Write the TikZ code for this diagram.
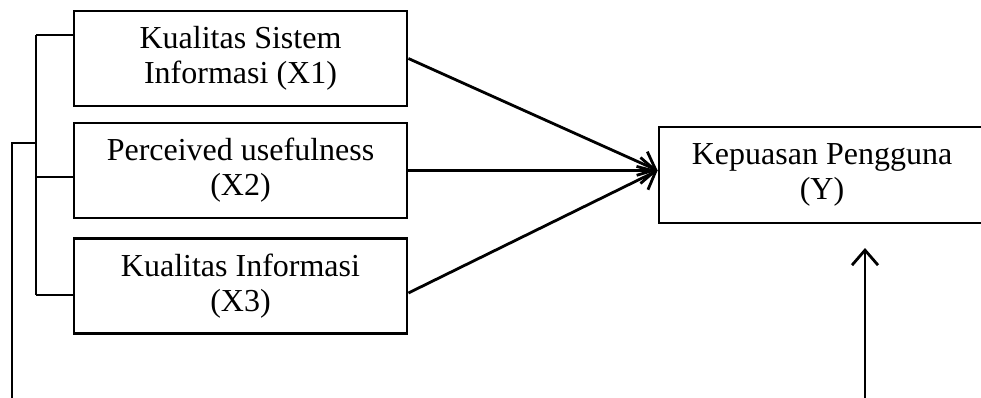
\documentclass[tikz,border=0pt]{standalone}
\usepackage{fontspec}
\setmainfont{Liberation Serif}
\usetikzlibrary{arrows.meta,calc}
\begin{document}
\begin{tikzpicture}[x=1pt,y=-1pt,
  box/.style={draw, line width=2.8pt, minimum width=333pt, minimum height=95pt,
    align=center, inner sep=0pt, font=\fontsize{32}{35}\selectfont},
  conn/.style={line width=2.8pt},
  arr/.style={line width=2.8pt, -{Straight Barb[length=15pt,width=26pt,line width=2.8pt]}}]
\clip (0,0) rectangle (981,398);
\fill[white] (0,0) rectangle (981,398);
\node[box] (X1) at (240.5,58.5) {Kualitas Sistem\\Informasi (X1)};
\node[box] (X2) at (240.5,170.5) {Perceived usefulness\\(X2)};
\node[box] (X3) at (240.5,286) {Kualitas Informasi\\(X3)};
\node[box, minimum width=326pt, minimum height=96pt] (Y) at (822,175) {Kepuasan Pengguna\\(Y)};
% convergence point
\coordinate (tip) at (X2.east -| Y.west);
\draw[arr] (X1.east) -- (tip);
\draw[arr] (X2.east) -- (tip);
\draw[arr] ($(X3.east)+(0,7)$) -- (tip);
% bracket
\coordinate (b1) at (36,35);
\coordinate (b2) at (36,177);
\coordinate (b3) at (36,295);
\coordinate (bo) at (36,143);
\draw[conn] (b1) -- (b3);
\draw[conn] (b1) -- (b1 -| X1.west);
\draw[conn] (b2) -- (b2 -| X2.west);
\draw[conn] (b3) -- (b3 -| X3.west);
\coordinate (o1) at (12,400);
\draw[conn] (o1) |- (bo);
% vertical arrow into Y
\coordinate (v0) at (865,400);
\coordinate (v1) at (865,248);
\draw[arr] (v0) -- (v1);
\end{tikzpicture}
\end{document}
